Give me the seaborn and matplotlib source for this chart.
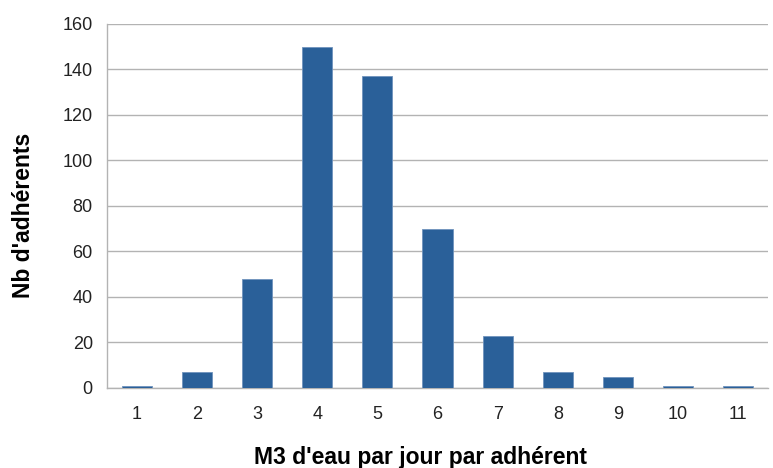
import matplotlib
matplotlib.use("Agg")
import matplotlib.pyplot as plt
import seaborn as sns
import pandas as pd
import numpy as np
from matplotlib.ticker import FixedLocator

## Data
m3_per_day = ["1", "2", "3", "4", "5", "6", "7", "8", "9", "10", "11"]
nb_adherents = [1, 7, 48, 150, 137, 70, 23, 7, 5, 1, 1]

df = pd.DataFrame({"m3": m3_per_day, "nb": nb_adherents})

sns.set_style("white")
plt.rcParams["font.family"] = ["Liberation Sans", "DejaVu Sans"]
plt.rcParams["text.color"] = "black"
plt.rcParams["axes.labelcolor"] = "black"

fig = plt.figure(figsize=(7.73, 4.68), dpi=100)
ax = fig.add_axes([0.138, 0.171, 0.856, 0.778])

sns.barplot(data=df, x="m3", y="nb", color="#2a6099", width=0.5,
            saturation=1, ax=ax, zorder=3, edgecolor="#6f93bd", linewidth=0.6)

ax.set_ylim(0, 160)
ax.set_xlim(-0.5, len(m3_per_day) - 0.5)
ax.set_yticks(np.arange(0, 161, 20))
ax.yaxis.grid(True, color="#b3b3b3", linewidth=1, zorder=0)
ax.set_axisbelow(True)

# ticks between categories, like the original
ax.xaxis.set_minor_locator(FixedLocator(np.arange(-0.5, len(m3_per_day), 1)))
ax.tick_params(axis="x", which="major", length=0, labelsize=13, pad=13, labelcolor="#222222")
ax.tick_params(axis="x", which="minor", length=6, color="#b3b3b3", width=1)
ax.tick_params(axis="y", length=6, color="#b3b3b3", width=1, labelsize=13, pad=4,
               labelcolor="#222222")

for side in ["top", "right"]:
    ax.spines[side].set_visible(False)
for side in ["left", "bottom"]:
    ax.spines[side].set_color("#b3b3b3")
    ax.spines[side].set_linewidth(1)

ax.set_xlabel("M3 d'eau par jour par adhérent", fontsize=16.5, fontweight="bold")
ax.set_ylabel("Nb d'adhérents", fontsize=16.5, fontweight="bold")
# the original centres the titles a bit off the plot area
ax.xaxis.set_label_coords(0.475, -0.158)
ax.yaxis.set_label_coords(-0.108, 0.475)

fig.savefig("out.png", dpi=100)
